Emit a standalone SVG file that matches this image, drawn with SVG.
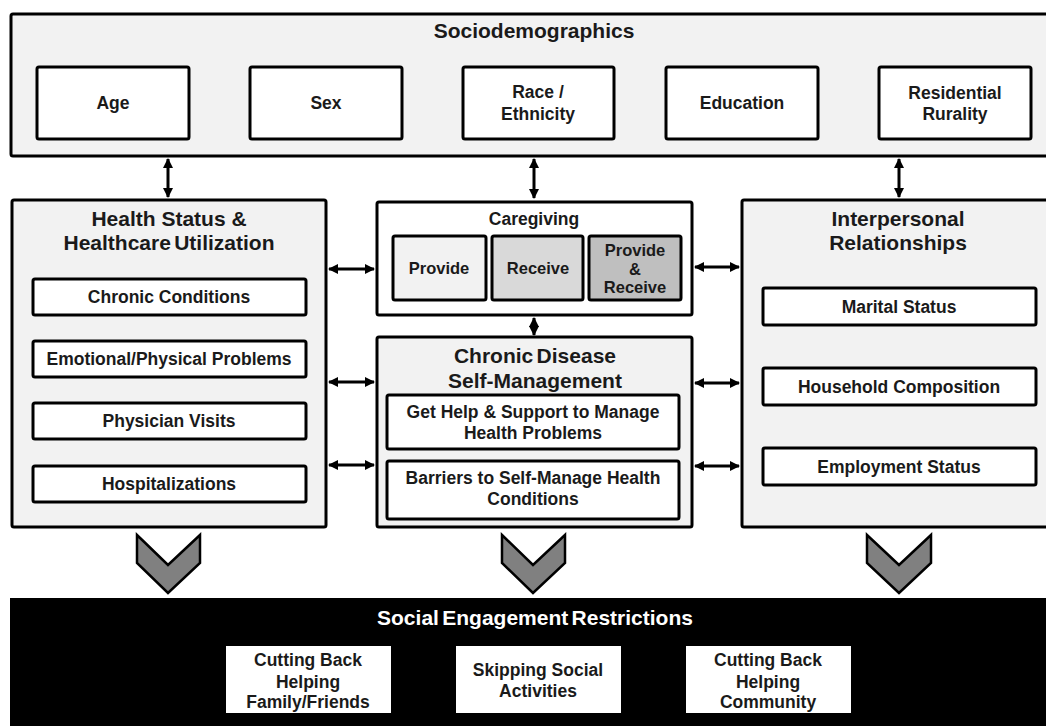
<svg xmlns="http://www.w3.org/2000/svg" width="1046" height="726" viewBox="0 0 1046 726">
<style>
.outer{fill:#f2f2f2;stroke:#000;stroke-width:3}
.inner{fill:#fff;stroke:#000;stroke-width:3}
.t{font-family:"Liberation Sans",Arial,sans-serif;font-weight:bold;fill:#1a1a1a;text-anchor:middle}
.s16{font-size:16.5px}
.s17{font-size:17.5px}
.s21{font-size:21px}
.tight{word-spacing:-2.5px}
.conn{stroke:#000;stroke-width:3;fill:none;marker-start:url(#ah);marker-end:url(#ah)}
.chev{fill:#808080;stroke:#000;stroke-width:2.5;stroke-linejoin:miter}
</style>
<defs>
<marker id="ah" viewBox="0 0 10 10" refX="9" refY="5" markerWidth="3.5" markerHeight="4.2" orient="auto-start-reverse" markerUnits="strokeWidth">
<path d="M0,0 L10,5 L0,10 z" fill="#000"/>
</marker>
</defs>
<rect width="1046" height="726" fill="#fff"/>

<g id="sociodemographics">
<rect class="outer" x="11" y="14" width="1040" height="142" rx="2"/>
<text class="t s21" x="534" y="38">Sociodemographics</text>
</g>
<g id="age"><rect class="inner" x="37" y="67" width="152" height="72" rx="2"/><text class="t s17" x="113" y="109">Age</text></g>
<g id="sex"><rect class="inner" x="250" y="67" width="152" height="72" rx="2"/><text class="t s17" x="326" y="109">Sex</text></g>
<g id="race"><rect class="inner" x="463" y="67" width="151" height="72" rx="2"/><text class="t s17" x="538" y="98">Race /</text><text class="t s17" x="538" y="120">Ethnicity</text></g>
<g id="education"><rect class="inner" x="666" y="67" width="152" height="72" rx="2"/><text class="t s17" x="742" y="109">Education</text></g>
<g id="residential"><rect class="inner" x="879" y="67" width="152" height="72" rx="2"/><text class="t s17" x="955" y="99">Residential</text><text class="t s17" x="955" y="120">Rurality</text></g>

<g id="health">
<rect class="outer" x="12" y="200" width="314" height="327" rx="2"/>
<text class="t s21" x="169" y="226">Health Status &amp;</text>
<text class="t s21 tight" x="169" y="250">Healthcare Utilization</text>
</g>
<g id="chronic-conditions"><rect class="inner" x="33" y="279" width="273" height="36" rx="2"/><text class="t s17" x="169" y="303">Chronic Conditions</text></g>
<g id="emotional"><rect class="inner" x="33" y="341" width="273" height="36" rx="2"/><text class="t s17" x="169" y="365">Emotional/Physical Problems</text></g>
<g id="physician"><rect class="inner" x="33" y="403" width="273" height="36" rx="2"/><text class="t s17" x="169" y="427">Physician Visits</text></g>
<g id="hospitalizations"><rect class="inner" x="33" y="466" width="273" height="36" rx="2"/><text class="t s17" x="169" y="490">Hospitalizations</text></g>

<g id="caregiving">
<rect class="inner" x="377" y="202" width="315" height="113" rx="2"/>
<text class="t s17" x="534" y="225">Caregiving</text>
</g>
<g id="provide"><rect x="393" y="236" width="93" height="64" rx="2" fill="#f2f2f2" stroke="#000" stroke-width="3"/><text class="t s16" x="439" y="274">Provide</text></g>
<g id="receive"><rect x="492" y="236" width="91" height="64" rx="2" fill="#d9d9d9" stroke="#000" stroke-width="3"/><text class="t s16" x="538" y="274">Receive</text></g>
<g id="provide-receive"><rect x="589" y="236" width="92" height="64" rx="2" fill="#bfbfbf" stroke="#000" stroke-width="3"/><text class="t s16" x="635" y="256">Provide</text><text class="t s16" x="635" y="275">&amp;</text><text class="t s16" x="635" y="293">Receive</text></g>

<g id="chronic-disease">
<rect class="outer" x="377" y="337" width="315" height="190" rx="2"/>
<text class="t s21 tight" x="535" y="363">Chronic Disease</text>
<text class="t s21" x="535" y="388">Self-Management</text>
</g>
<g id="get-help"><rect class="inner" x="387" y="395" width="292" height="54" rx="2"/><text class="t s17" x="533" y="418">Get Help &amp; Support to Manage</text><text class="t s17" x="533" y="439">Health Problems</text></g>
<g id="barriers"><rect class="inner" x="387" y="461" width="292" height="58" rx="2"/><text class="t s17" x="533" y="484">Barriers to Self-Manage Health</text><text class="t s17" x="533" y="505">Conditions</text></g>

<g id="interpersonal">
<rect class="outer" x="742" y="200" width="310" height="327" rx="2"/>
<text class="t s21" x="898" y="226">Interpersonal</text>
<text class="t s21" x="898" y="250">Relationships</text>
</g>
<g id="marital"><rect class="inner" x="763" y="288" width="273" height="37" rx="2"/><text class="t s17" x="899" y="313">Marital  Status</text></g>
<g id="household"><rect class="inner" x="763" y="368" width="273" height="37" rx="2"/><text class="t s17" x="899" y="393">Household Composition</text></g>
<g id="employment"><rect class="inner" x="763" y="448" width="273" height="37" rx="2"/><text class="t s17" x="899" y="473">Employment Status</text></g>

<g id="connectors">
<line class="conn" x1="168" y1="159" x2="168" y2="197"/>
<line class="conn" x1="534" y1="159" x2="534" y2="198"/>
<line class="conn" x1="899" y1="159" x2="899" y2="197"/>
<line class="conn" x1="329" y1="269" x2="374" y2="269"/>
<line class="conn" x1="329" y1="382" x2="374" y2="382"/>
<line class="conn" x1="329" y1="465" x2="374" y2="465"/>
<line class="conn" x1="695" y1="267" x2="739" y2="267"/>
<line class="conn" x1="695" y1="383" x2="739" y2="383"/>
<line class="conn" x1="695" y1="466" x2="739" y2="466"/>
<line class="conn" x1="534" y1="318" x2="534" y2="335"/>
<polygon class="chev" points="137,535 168,565 200,535 200,563 168,593 137,563"/>
<polygon class="chev" points="502,535 533,565 565,535 565,563 533,593 502,563"/>
<polygon class="chev" points="867,535 899,565 931,535 931,563 899,593 867,563"/>
</g>

<g id="social-engagement">
<rect x="10" y="598" width="1040" height="130" fill="#000"/>
<text class="t s21 tight" x="535" y="625" style="fill:#fff">Social Engagement Restrictions</text>
</g>
<g id="cutting-family"><rect x="226" y="646" width="165" height="67" fill="#fff"/><text class="t s17" x="308" y="666">Cutting Back</text><text class="t s17" x="308" y="688">Helping</text><text class="t s17" x="308" y="708">Family/Friends</text></g>
<g id="skipping"><rect x="456" y="646" width="165" height="67" fill="#fff"/><text class="t s17" x="538" y="676">Skipping Social</text><text class="t s17" x="538" y="697">Activities</text></g>
<g id="cutting-community"><rect x="686" y="646" width="165" height="67" fill="#fff"/><text class="t s17" x="768" y="666">Cutting Back</text><text class="t s17" x="768" y="688">Helping</text><text class="t s17" x="768" y="708">Community</text></g>
</svg>
